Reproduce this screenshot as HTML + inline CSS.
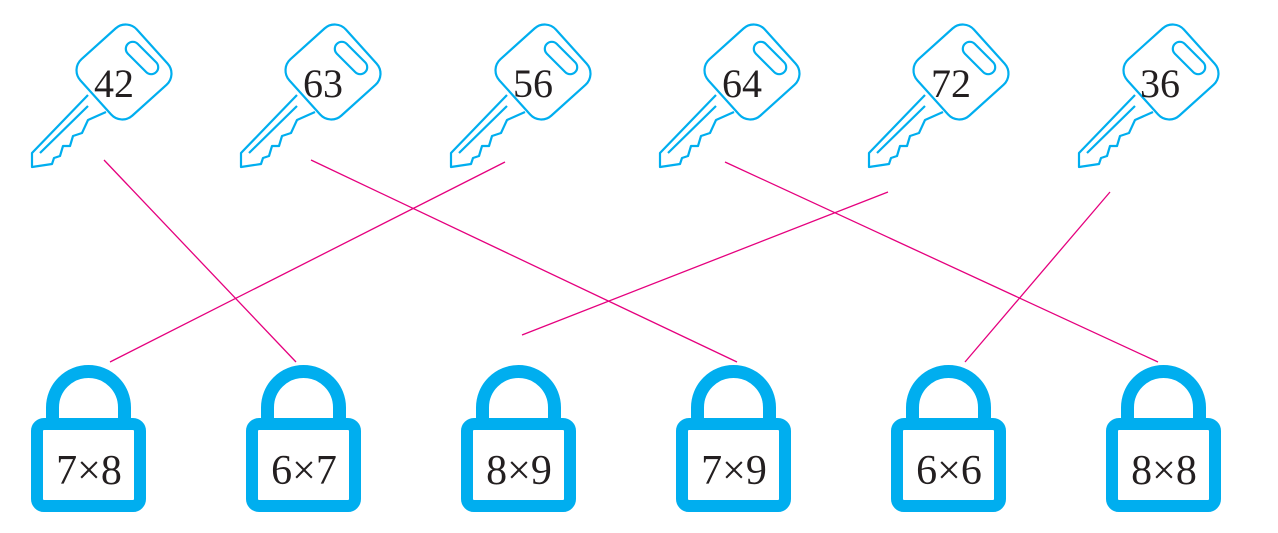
<!DOCTYPE html>
<html><head><style>body{margin:0;background:#fff}svg{display:block}</style></head><body>
<svg width="1278" height="533" viewBox="0 0 1278 533" xmlns="http://www.w3.org/2000/svg">
<defs>
<g id="key" fill="none" stroke="#00aeef" stroke-width="2.2" stroke-linejoin="round">
<path d="M88,95 L32,153 L32,167 L52,164 L54,158 L60,156 L63,146 L70,146 L73,136 L82,133 L88,120 L106,112"/>
<path d="M40,153 L88,106"/>
<rect x="-38" y="-38" width="76" height="76" rx="15" transform="translate(124,72) rotate(-42)" fill="#fff"/>
<rect x="-20" y="-7" width="40" height="14" rx="7" transform="translate(142,58) rotate(45)"/>
</g>
<g id="lock">
<path d="M21.5,58 V45.5 A36,36 0 0 1 93.5,45.5 V58" fill="none" stroke="#00aeef" stroke-width="13"/>
<rect x="6" y="62" width="103" height="82" rx="7" fill="#fff" stroke="#00aeef" stroke-width="12"/>
</g>
</defs>
<g stroke="#e5007e" stroke-width="1.3">
<line x1="104" y1="160" x2="296" y2="362"/>
<line x1="311" y1="160" x2="737" y2="362"/>
<line x1="505" y1="162" x2="110" y2="362"/>
<line x1="725" y1="162" x2="1158" y2="362"/>
<line x1="888" y1="192" x2="522" y2="335"/>
<line x1="1110" y1="192" x2="965" y2="362"/>
</g>
<g font-family="Liberation Serif, serif" font-size="40" fill="#231f20" text-anchor="middle">
<use href="#key"/><text x="114" y="97">42</text>
<use href="#key" transform="translate(209,0)"/><text x="323" y="97">63</text>
<use href="#key" transform="translate(419,0)"/><text x="533" y="97">56</text>
<use href="#key" transform="translate(628,0)"/><text x="742" y="97">64</text>
<use href="#key" transform="translate(837,0)"/><text x="951" y="97">72</text>
<use href="#key" transform="translate(1047,0)"/><text x="1160" y="97">36</text>
</g>
<g font-family="Liberation Serif, serif" font-size="42" fill="#231f20" text-anchor="middle">
<use href="#lock" transform="translate(31,362)"/><text x="89" y="484">7×8</text>
<use href="#lock" transform="translate(246,362)"/><text x="304" y="484">6×7</text>
<use href="#lock" transform="translate(461,362)"/><text x="519" y="484">8×9</text>
<use href="#lock" transform="translate(676,362)"/><text x="734" y="484">7×9</text>
<use href="#lock" transform="translate(891,362)"/><text x="949" y="484">6×6</text>
<use href="#lock" transform="translate(1106,362)"/><text x="1164" y="484">8×8</text>
</g>
</svg>
</body></html>
